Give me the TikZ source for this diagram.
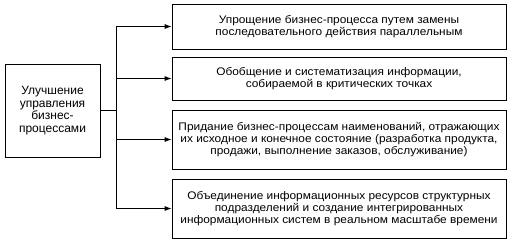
\documentclass[tikz,border=0pt]{standalone}
\usepackage{fontspec}
\setmainfont{Liberation Sans}
\newfontfamily\widefont[FakeStretch=1.08]{Liberation Sans}
\usetikzlibrary{arrows.meta}
\begin{document}
\begin{tikzpicture}[x=1pt,y=-1pt,
  box/.style={draw,line width=0.8pt,align=center,inner sep=0pt,font=\widefont\fontsize{11}{12}\selectfont},
  lbox/.style={draw,line width=0.8pt,align=center,inner sep=0pt,font=\fontsize{12}{12.5}\selectfont},
  conn/.style={line width=0.8pt},
  arr/.style={conn,-{Latex[length=7pt,width=5pt]}}]
\useasboundingbox (0,0) rectangle (510,242);
\node[lbox,minimum width=95pt,minimum height=93pt] (L) at (52.5,110.5) {Улучшение\\управления\\бизнес-\\процессами};
\node[box,minimum width=334pt,minimum height=45pt] (A) at (339,26.5) {Упрощение бизнес-процесса путем замены\\последовательного действия параллельным};
\node[box,minimum width=334pt,minimum height=43pt] (B) at (339,78.5) {Обобщение и систематизация информации,\\собираемой в критических точках};
\node[box,minimum width=334pt,minimum height=59pt] (C) at (339,139.5) {Придание бизнес-процессам наименований, отражающих\\их исходное и конечное состояние (разработка продукта,\\продажи, выполнение заказов, обслуживание)};
\node[box,minimum width=334pt,minimum height=59pt] (D) at (339,208.5) {Объединение информационных ресурсов структурных\\подразделений и создание интегрированных\\информационных систем в реальном масштабе времени};
\coordinate (J) at (116,110.5);
\draw[conn] (L.east) -- (J);
\draw[conn] (116,26.5) -- (116,208.5);
\draw[arr] (116,26.5) -- (A.west);
\draw[arr] (116,78.5) -- (B.west);
\draw[arr] (116,139.5) -- (C.west);
\draw[arr] (116,208.5) -- (D.west);
\end{tikzpicture}
\end{document}
